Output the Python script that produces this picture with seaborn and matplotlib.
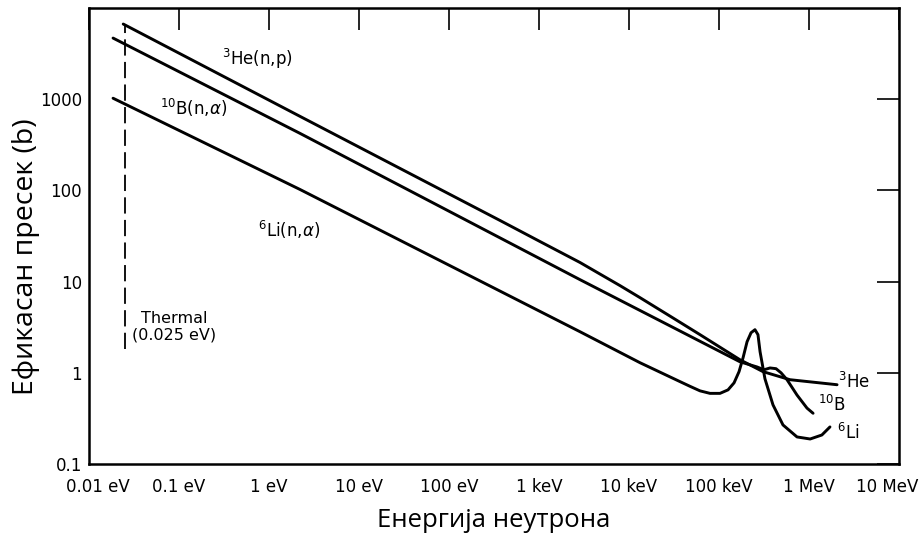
import matplotlib
import pandas as pd
import matplotlib.pyplot as plt
import matplotlib.transforms as mtransforms
import seaborn as sns

matplotlib.use('Agg')

# energies in eV, cross sections in barn
he3_energy = [0.024, 2.2, 369, 1026, 2856, 4760, 7940, 13250, 28600, 61500,
              171000, 308000, 615000, 2.05e6]
he3_sigma = [6670, 650, 46.8, 27.5, 16.2, 12.1, 9.04, 6.67, 4.18, 2.62,
             1.39, 1.03, 0.84, 0.74]

b10_energy = [0.0185, 2.2, 2856, 171000, 264000, 316000, 369000, 430000, 489000,
              570000, 736000, 950000, 1.11e6]
b10_sigma = [4680, 423, 10.5, 1.32, 1.16, 1.08, 1.13, 1.11, 1.0,
             0.84, 0.57, 0.41, 0.36]

li6_energy = [0.0185, 2.2, 2856, 13250, 36900, 47600, 61500, 79400, 102600, 126000,
              147000, 167000, 185000, 205000, 227000, 251000, 271000, 286000, 324000,
              398000, 514000, 736000, 1.03e6, 1.39e6, 1.71e6]
li6_sigma = [1025, 102.6, 2.82, 1.29, 0.80, 0.711, 0.634, 0.595, 0.595, 0.650,
             0.776, 1.03, 1.46, 2.19, 2.75, 2.97, 2.62, 1.70, 0.86,
             0.445, 0.268, 0.198, 0.188, 0.208, 0.255]

thermal_energy = 0.025
thermal_sigma = [1.84, 6300]

x_ticks = [1e-2, 1e-1, 1, 10, 100, 1e3, 1e4, 1e5, 1e6, 1e7]
x_labels = ['0.01 eV', '0.1 eV', '1 eV', '10 eV', '100 eV', '1 keV', '10 keV', '100 keV', '1 MeV', '10 MeV']
y_ticks = [0.1, 1, 10, 100, 1000]
y_labels = ['0.1', '1', '10', '100', '1000']

sns.set_theme(style='white')
plt.rcParams['font.family'] = ['DejaVu Sans']
plt.rcParams['text.color'] = 'black'
plt.rcParams['axes.labelcolor'] = 'black'

fig = plt.figure(figsize=(9.23, 5.35), dpi=100)
ax = fig.add_axes([89 / 923, 1 - 464 / 535, 810 / 923, 456 / 535])

for en, sg in [(he3_energy, he3_sigma), (b10_energy, b10_sigma), (li6_energy, li6_sigma)]:
    df = pd.DataFrame({'E': en, 's': sg})
    sns.lineplot(data=df, x='E', y='s', sort=False, estimator=None, color='black', lw=2.1, ax=ax)

ax.plot([thermal_energy, thermal_energy], thermal_sigma, color='black', lw=1.3, ls=(0, (9, 3.5)))

ax.set_xscale('log')
ax.set_yscale('log')
ax.set_xlim(1e-2, 1e7)
ax.set_ylim(0.1, 1e4)
ax.set_xticks(x_ticks)
ax.set_xticklabels(x_labels, fontsize=12)
ax.set_yticks(y_ticks)
ax.set_yticklabels(y_labels, fontsize=12)
ax.minorticks_off()
ax.tick_params(axis='both', which='major', direction='in', length=16, width=1.2,
               top=True, right=True, colors='black')
ax.tick_params(axis='x', pad=10)
ax.tick_params(axis='y', pad=5)
for s in ax.spines.values():
    s.set_linewidth(1.8)
    s.set_color('black')

# first and last x labels sit a bit off their ticks in the original
xl = ax.get_xticklabels()
xl[0].set_transform(xl[0].get_transform() + mtransforms.ScaledTranslation(9 / 100, 0, fig.dpi_scale_trans))
xl[-1].set_transform(xl[-1].get_transform() + mtransforms.ScaledTranslation(-12 / 100, 0, fig.dpi_scale_trans))

ax.text(0.3, 2760, r'$^{3}$He(n,p)', fontsize=12, va='center', ha='left')
ax.text(0.0615, 796, r'$^{10}$B(n,$\alpha$)', fontsize=12, va='center', ha='left')
ax.text(0.755, 37, r'$^{6}$Li(n,$\alpha$)', fontsize=12, va='center', ha='left')
ax.text(2.1e6, 0.79, r'$^{3}$He', fontsize=12, va='center', ha='left')
ax.text(1.26e6, 0.445, r'$^{10}$B', fontsize=12, va='center', ha='left')
ax.text(2.05e6, 0.22, r'$^{6}$Li', fontsize=12, va='center', ha='left')
ax.text(0.088, 3.2, 'Thermal\n(0.025 eV)', fontsize=11.5, va='center', ha='center',
        multialignment='center', linespacing=1.1)

ax.set_xlabel('Енергија неутрона', fontsize=18.5, family=['Open Sans', 'DejaVu Sans'], labelpad=9)
ax.set_ylabel('Ефикасан пресек (b)', fontsize=20.5, family=['Open Sans', 'DejaVu Sans'])
ax.yaxis.set_label_coords(-0.060, 0.454)

plt.savefig('out.png', dpi=100)
plt.close()
